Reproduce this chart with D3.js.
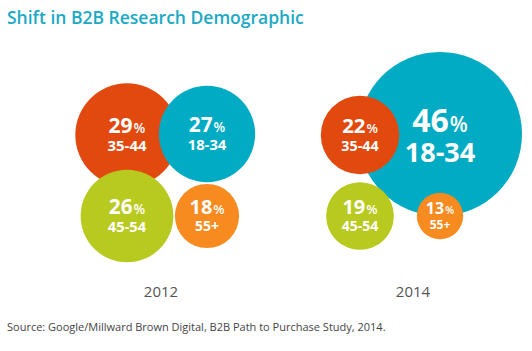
<!DOCTYPE html>
<html>
<head>
<meta charset="utf-8">
<script src="https://cdn.jsdelivr.net/npm/d3@7"></script>
<style>
  body { margin: 0; background: #fff; }
  text { font-family: "Open Sans", sans-serif; }
</style>
</head>
<body>
<div id="chart"></div>
<script>
// data
const years = ["2012", "2014"];
const ages = ["18-34", "35-44", "45-54", "55+"];
const share2012 = [27, 29, 26, 18];
const share2014 = [46, 22, 19, 13];
const ageColors = ["#00abc3", "#e2490f", "#b8c91f", "#f78b1f"];

const width = 532, height = 351;

const svg = d3.create("svg")
    .attr("width", width)
    .attr("height", height);

// flatten into one list of bubbles
const bubbles = [];
years.forEach((y, yi) => {
    const vals = yi === 0 ? share2012 : share2014;
    ages.forEach((a, ai) => bubbles.push({year: y, age: a, value: vals[ai]}));
});

// scales
const groupX = d3.scalePoint().domain(years).range([167, 400]);
const labelX = d3.scalePoint().domain(years).range([161, 413]);
// each age keeps the same slot in both years
const colOffset = d3.scaleOrdinal().domain(ages).range([40, -40, -40, 40]);
const rowY = d3.scaleOrdinal().domain(ages).range([134, 135, 216, 216]);
const r = d3.scaleLinear().domain([0, 46]).range([0, 82]);
const color = d3.scaleOrdinal().domain(ages).range(ageColors);
const numFont = d3.scaleLinear().domain([13, 18, 29, 46]).range([16, 20, 21, 32]);
const ageFont = d3.scaleLinear().domain([13, 18, 29, 46]).range([12, 14, 15, 27]);

// title
svg.append("text")
    .attr("x", 7)
    .attr("y", 24)
    .attr("fill", "#1aa9c4")
    .attr("font-size", 17.5)
    .attr("font-weight", 600)
    .text("Shift in B2B Research Demographic");

years.forEach(y => {
    // bigger bubbles go underneath
    const data = bubbles.filter(d => d.year === y)
        .sort((a, b) => b.value - a.value);

    const g = svg.append("g");

    const node = g.selectAll("g.bubble")
        .data(data)
        .enter().append("g")
        .attr("class", "bubble")
        .attr("transform", d => `translate(${groupX(d.year) + colOffset(d.age)},${rowY(d.age)})`);

    node.append("circle")
        .attr("r", d => r(d.value))
        .attr("fill", d => color(d.age));

    const num = node.append("text")
        .attr("text-anchor", "middle")
        .attr("y", -2)
        .attr("fill", "#fff")
        .attr("font-weight", 700)
        .attr("font-size", d => numFont(d.value));
    num.append("tspan").text(d => d.value);
    num.append("tspan")
        .attr("dx", 1)
        .attr("font-size", d => numFont(d.value) * 0.65)
        .attr("font-weight", 600)
        .text("%");

    node.append("text")
        .attr("text-anchor", "middle")
        .attr("y", d => 2 + ageFont(d.value) * 0.95)
        .attr("fill", "#fff")
        .attr("font-weight", 700)
        .attr("font-size", d => ageFont(d.value))
        .text(d => d.age);

    // year under each group
    svg.append("text")
        .attr("x", labelX(y))
        .attr("y", 297)
        .attr("text-anchor", "middle")
        .attr("fill", "#555")
        .attr("font-size", 15)
        .text(y);
});

// source line
svg.append("text")
    .attr("x", 7)
    .attr("y", 331)
    .attr("fill", "#444")
    .attr("font-size", 11)
    .text("Source: Google/Millward Brown Digital, B2B Path to Purchase Study, 2014.");

document.getElementById("chart").appendChild(svg.node());
</script>
</body>
</html>
